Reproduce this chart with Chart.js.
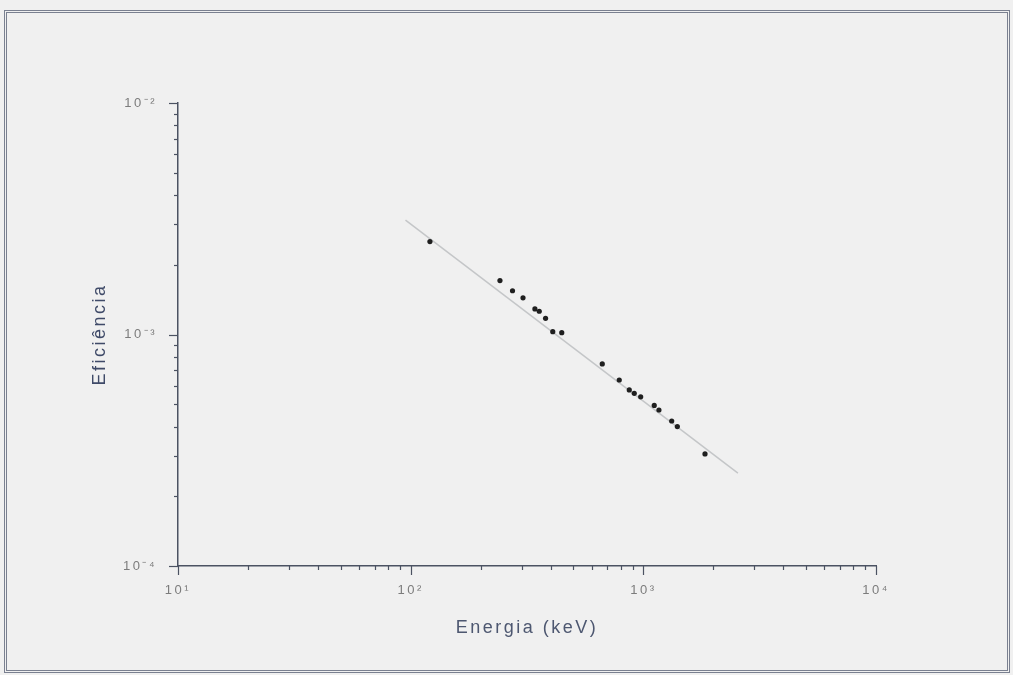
<!DOCTYPE html>
<html>
<head>
<meta charset="utf-8">
<script src="https://cdn.jsdelivr.net/npm/chart.js@4/dist/chart.umd.min.js"></script>
<style>
  html, body { margin: 0; padding: 0; background: #f0f0f0; }
  #frame { position: absolute; left: 4px; top: 10px; width: 1000px; height: 657px;
           border: 3px double #7a8090; }
  #c { position: absolute; left: 0; top: 0; }
</style>
</head>
<body>
<div id="frame"></div>
<canvas id="c" width="1013" height="675"></canvas>
<script>
// ---- data ----
const energies = [121, 242, 274, 304, 342, 357, 380, 408, 446, 666, 788, 870, 914, 974, 1114, 1167, 1324, 1400, 1841];
const efficiencies = [2.52e-3, 1.71e-3, 1.545e-3, 1.44e-3, 1.29e-3, 1.26e-3, 1.175e-3, 1.028e-3, 1.018e-3,
                      7.46e-4, 6.36e-4, 5.76e-4, 5.57e-4, 5.38e-4, 4.94e-4, 4.72e-4, 4.23e-4, 4.0e-4, 3.05e-4];
const fitEnergy = [95, 2550];
const fitEfficiency = [3.12e-3, 2.52e-4];
const xTickExponents = [1, 2, 3, 4];
const xTickLabels = ['10¹', '10²', '10³', '10⁴'];
const yTickExponents = [-4, -3, -2];
const yTickLabels = ['10⁻⁴', '10⁻³', '10⁻²'];
const xTitle = 'Energia (keV)';
const yTitle = 'Eficiência';

const FONT = "'Liberation Sans', Arial, sans-serif";

function labelFor(v, exps, labels) {
  const l = Math.log10(v);
  const r = Math.round(l);
  if (Math.abs(l - r) > 1e-9) return '';
  const i = exps.indexOf(r);
  return i >= 0 ? labels[i] : '';
}

const spacingPlugin = {
  id: 'spacing',
  beforeUpdate(chart) { chart.ctx.letterSpacing = '2.5px'; },
  beforeDraw(chart) { chart.ctx.letterSpacing = '2.5px'; }
};

const tickPlugin = {
  id: 'logTicks',
  afterDraw(chart) {
    const ctx = chart.ctx;
    ctx.save();
    ctx.strokeStyle = '#4b5262';
    ctx.lineWidth = 1.2;
    const xs = chart.scales.x, ys = chart.scales.y;
    const area = chart.chartArea;
    for (let e = Math.round(Math.log10(xs.min)); e <= Math.round(Math.log10(xs.max)); e++) {
      for (let m = 1; m <= 9; m++) {
        const v = m * Math.pow(10, e);
        if (v < xs.min * 0.999 || v > xs.max * 1.001) continue;
        const px = Math.round(xs.getPixelForValue(v)) + 0.5;
        const len = m === 1 ? 9 : 4;
        ctx.beginPath();
        ctx.moveTo(px, area.bottom);
        ctx.lineTo(px, area.bottom + len);
        ctx.stroke();
      }
    }
    for (let e = Math.round(Math.log10(ys.min)); e <= Math.round(Math.log10(ys.max)); e++) {
      for (let m = 1; m <= 9; m++) {
        const v = m * Math.pow(10, e);
        if (v < ys.min * 0.999 || v > ys.max * 1.001) continue;
        const py = Math.round(ys.getPixelForValue(v)) + 0.5;
        const len = m === 1 ? 9 : 4;
        ctx.beginPath();
        ctx.moveTo(area.left - len, py);
        ctx.lineTo(area.left, py);
        ctx.stroke();
      }
    }
    ctx.restore();
  }
};

new Chart(document.getElementById('c'), {
  type: 'scatter',
  data: {
    datasets: [
      {
        label: 'Ajuste',
        data: fitEnergy.map((x, i) => ({ x, y: fitEfficiency[i] })),
        showLine: true,
        borderColor: '#c4c6c8',
        borderWidth: 1.5,
        pointRadius: 0,
        order: 2
      },
      {
        label: 'Eficiência',
        data: energies.map((x, i) => ({ x, y: efficiencies[i] })),
        backgroundColor: '#1f1f1f',
        borderColor: '#1f1f1f',
        pointRadius: 2.6,
        borderWidth: 0,
        order: 1
      }
    ]
  },
  options: {
    responsive: false,
    animation: false,
    layout: { padding: { left: 89, right: 137, top: 103, bottom: 36 } },
    plugins: { legend: { display: false }, tooltip: { enabled: false } },
    scales: {
      x: {
        type: 'logarithmic',
        min: 10, max: 10000,
        border: { display: true, color: '#4b5262', width: 1.5 },
        grid: { display: false, drawTicks: true, tickLength: 9 },
        ticks: {
          autoSkip: false, maxRotation: 0, padding: 8,
          color: '#7c7c7c', font: { family: FONT, size: 13 },
          callback: (v) => labelFor(v, xTickExponents, xTickLabels)
        },
        title: {
          display: true, text: xTitle, color: '#4d5770',
          font: { family: FONT, size: 18 }, padding: { top: 0, bottom: 0 }
        },
        afterFit(s) { s.height = 73; s.paddingLeft = 0; s.paddingRight = 0; }
      },
      y: {
        type: 'logarithmic',
        min: 1e-4, max: 1e-2,
        border: { display: true, color: '#4b5262', width: 1.5 },
        grid: { display: false, drawTicks: true, tickLength: 9 },
        ticks: {
          autoSkip: false, padding: 12,
          color: '#7c7c7c', font: { family: FONT, size: 13 },
          callback: (v) => labelFor(v, yTickExponents, yTickLabels)
        },
        title: {
          display: true, text: yTitle, color: '#3f4a68',
          font: { family: FONT, size: 18 }, padding: { top: 0, bottom: 0 }
        },
        afterFit(s) { s.width = 89; s.paddingTop = 0; s.paddingBottom = 0; }
      }
    }
  },
  plugins: [spacingPlugin, tickPlugin]
});
</script>
</body>
</html>
